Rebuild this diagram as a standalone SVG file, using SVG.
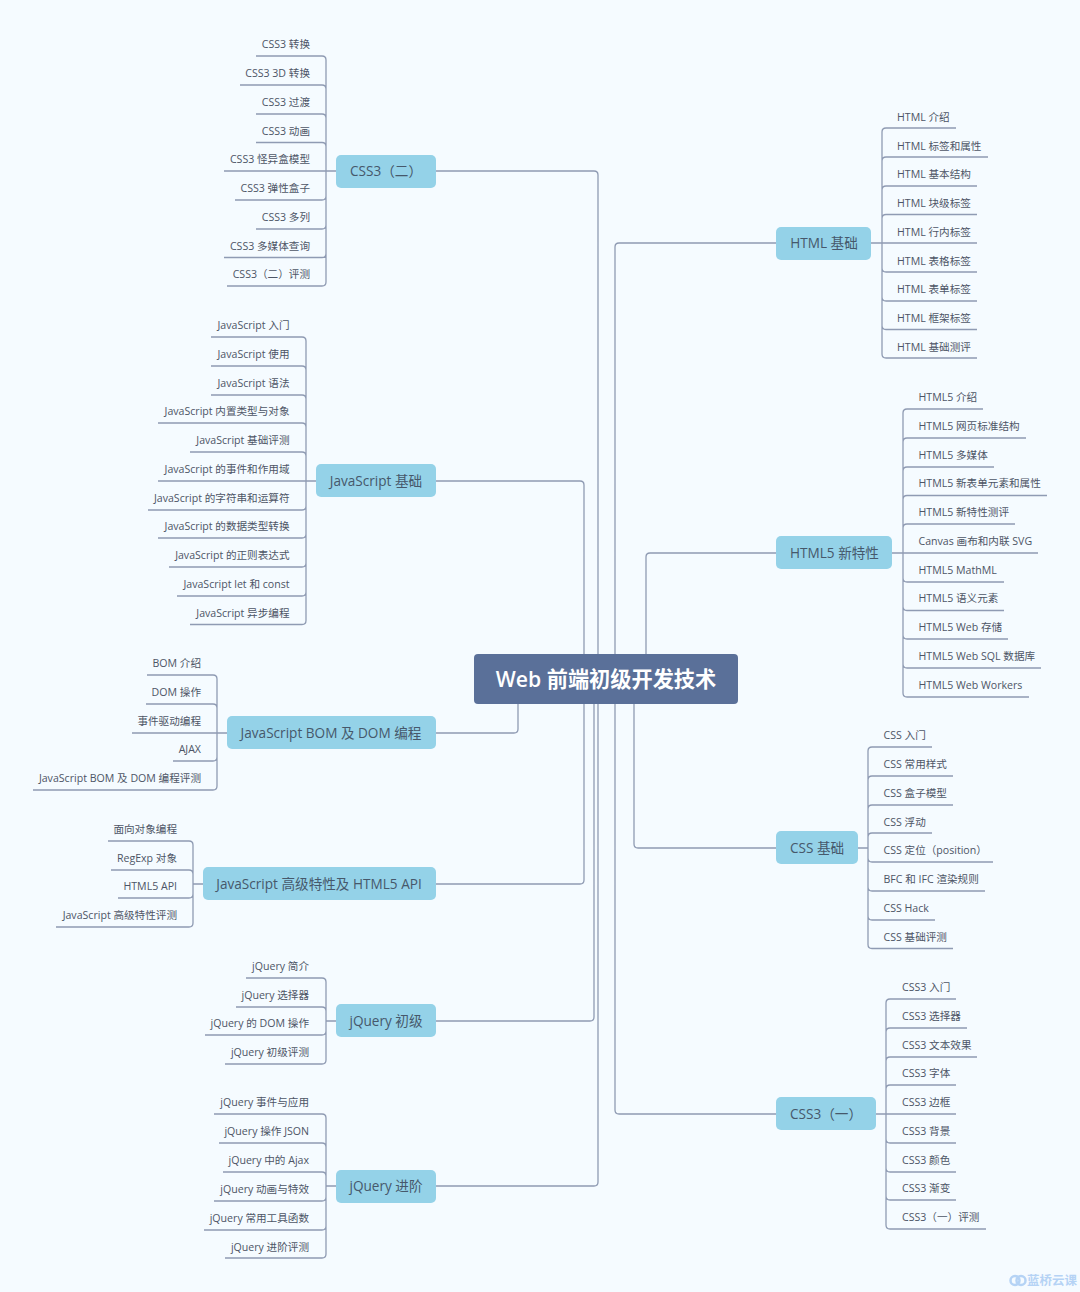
<svg xmlns="http://www.w3.org/2000/svg" width="1080" height="1292" viewBox="0 0 1080 1292">
<style>
text{font-family:"Open Sans","Noto Sans CJK SC",sans-serif}
.l{font-size:10.6px;fill:#4d5566}
.e{text-anchor:end}
.n{font-size:13.6px;fill:#46586b;text-anchor:middle}
.b{fill:#94d2e8}
.c{fill:none;stroke:#8f9bb3;stroke-width:1.3}
</style>
<rect width="1080" height="1292" fill="#f5fbff"/>
<g id="connectors" class="c">
<path d="M436 171H594Q598 171 598 175V654M436 481H580Q584 481 584 485V654M436 733H514Q518 733 518 729V704M436 884H580Q584 884 584 880V704M436 1021H590Q594 1021 594 1017V704M436 1186H594Q598 1186 598 1182V704M776 243H619Q615 243 615 247V654M776 553H650Q646 553 646 557V654M776 848H638Q634 848 634 844V704M776 1114H619Q615 1114 615 1110V704"/>
<path d="M256 56H322Q326 56 326 60V171M240 85H322Q326 85 326 89V171M256 114H322Q326 114 326 118V171M256 142.500H322Q326 142.500 326 146.500V171M224 171H336M235 200H322Q326 200 326 196V171M256 229H322Q326 229 326 225V171M224 257.500H322Q326 257.500 326 253.500V171M227 286H322Q326 286 326 282V171"/>
<path d="M211 337H302Q306 337 306 341V481M211 366H302Q306 366 306 370V481M211 395H302Q306 395 306 399V481M158 423H302Q306 423 306 427V481M190 452H302Q306 452 306 456V481M158 481H316M148 510H302Q306 510 306 506V481M158 538H302Q306 538 306 534V481M169 567H302Q306 567 306 563V481M177 596H302Q306 596 306 592V481M190 624.500H302Q306 624.500 306 620.500V481"/>
<path d="M147 675H213Q217 675 217 679V733M146 704H213Q217 704 217 708V733M132 733H227M173 761H213Q217 761 217 757V733M33 790H213Q217 790 217 786V733"/>
<path d="M108 841H189Q193 841 193 845V884M111 870H189Q193 870 193 874V884M118 898H189Q193 898 193 894V884M56 927H189Q193 927 193 923V884M193 884H203"/>
<path d="M246 978H322Q326 978 326 982V1021M236 1007H322Q326 1007 326 1011V1021M205 1035H322Q326 1035 326 1031V1021M225 1064H322Q326 1064 326 1060V1021M326 1021H336"/>
<path d="M214 1114H322Q326 1114 326 1118V1186M219 1143H322Q326 1143 326 1147V1186M223 1172H322Q326 1172 326 1176V1186M214 1201H322Q326 1201 326 1197V1186M204 1230H322Q326 1230 326 1226V1186M225 1258H322Q326 1258 326 1254V1186M326 1186H336"/>
<path d="M956 128H886Q882 128 882 132V243M988 157H886Q882 157 882 161V243M977 186H886Q882 186 882 190V243M977 214.500H886Q882 214.500 882 218.500V243M977 243H871M977 272H886Q882 272 882 268V243M977 301H886Q882 301 882 297V243M977 329.500H886Q882 329.500 882 325.500V243M977 358H886Q882 358 882 354V243"/>
<path d="M983 409H907Q903 409 903 413V553M1026 438H907Q903 438 903 442V553M994 467H907Q903 467 903 471V553M1047 495.500H907Q903 495.500 903 499.500V553M1015 524H907Q903 524 903 528V553M1038 553H892M1004 582H907Q903 582 903 578V553M1004 610.500H907Q903 610.500 903 606.500V553M1008 639H907Q903 639 903 635V553M1041 668H907Q903 668 903 664V553M1029 697H907Q903 697 903 693V553"/>
<path d="M932 747H872Q868 747 868 751V848M953 776H872Q868 776 868 780V848M953 805H872Q868 805 868 809V848M932 833H872Q868 833 868 837V848M993 862H872Q868 862 868 858V848M985 891H872Q868 891 868 887V848M935 920H872Q868 920 868 916V848M953 948.500H872Q868 948.500 868 944.500V848M868 848H858"/>
<path d="M956 999H890Q886 999 886 1003V1114M967 1028H890Q886 1028 886 1032V1114M977 1057H890Q886 1057 886 1061V1114M956 1085H890Q886 1085 886 1089V1114M956 1114H876M956 1143H890Q886 1143 886 1139V1114M956 1172H890Q886 1172 886 1168V1114M956 1200H890Q886 1200 886 1196V1114M986 1229H890Q886 1229 886 1225V1114"/>
</g>
<g id="root"><rect x="474" y="654" width="264" height="50" rx="4" fill="#5a7099"/><text x="606" y="686.500" text-anchor="middle" font-size="21.200" font-weight="600" fill="#fff">Web 前端初级开发技术</text></g>
<g id="css3-2"><rect class="b" x="336" y="155" width="100" height="33" rx="5"/><text class="n" x="386" y="176">CSS3（二）</text>
<g class="l e"><text x="310" y="48">CSS3 转换</text><text x="310" y="77">CSS3 3D 转换</text><text x="310" y="106">CSS3 过渡</text><text x="310" y="135">CSS3 动画</text><text x="310" y="163">CSS3 怪异盒模型</text><text x="310" y="192">CSS3 弹性盒子</text><text x="310" y="221">CSS3 多列</text><text x="310" y="250">CSS3 多媒体查询</text><text x="310" y="278">CSS3（二）评测</text></g></g>
<g id="js-basic"><rect class="b" x="316" y="464" width="120" height="33" rx="5"/><text class="n" x="376" y="485.500">JavaScript 基础</text>
<g class="l e"><text x="289.500" y="329">JavaScript 入门</text><text x="289.500" y="358">JavaScript 使用</text><text x="289.500" y="387">JavaScript 语法</text><text x="289.500" y="415">JavaScript 内置类型与对象</text><text x="289.500" y="444">JavaScript 基础评测</text><text x="289.500" y="473">JavaScript 的事件和作用域</text><text x="289.500" y="501.500">JavaScript 的字符串和运算符</text><text x="289.500" y="530">JavaScript 的数据类型转换</text><text x="289.500" y="559">JavaScript 的正则表达式</text><text x="289.500" y="588">JavaScript let 和 const</text><text x="289.500" y="616.500">JavaScript 异步编程</text></g></g>
<g id="js-bom"><rect class="b" x="227" y="716" width="209" height="33" rx="5"/><text class="n" x="331" y="737.500">JavaScript BOM 及 DOM 编程</text>
<g class="l e"><text x="201" y="667">BOM 介绍</text><text x="201" y="696">DOM 操作</text><text x="201" y="725">事件驱动编程</text><text x="201" y="753">AJAX</text><text x="201" y="782">JavaScript BOM 及 DOM 编程评测</text></g></g>
<g id="js-adv"><rect class="b" x="203" y="867" width="233" height="33" rx="5"/><text class="n" x="319" y="888.500">JavaScript 高级特性及 HTML5 API</text>
<g class="l e"><text x="177" y="833">面向对象编程</text><text x="177" y="862">RegExp 对象</text><text x="177" y="890">HTML5 API</text><text x="177" y="919">JavaScript 高级特性评测</text></g></g>
<g id="jq-basic"><rect class="b" x="336" y="1004" width="100" height="33" rx="5"/><text class="n" x="386" y="1025.500">jQuery 初级</text>
<g class="l e"><text x="309" y="970">jQuery 简介</text><text x="309" y="998.500">jQuery 选择器</text><text x="309" y="1027">jQuery 的 DOM 操作</text><text x="309" y="1056">jQuery 初级评测</text></g></g>
<g id="jq-adv"><rect class="b" x="336" y="1170" width="100" height="33" rx="5"/><text class="n" x="386" y="1191">jQuery 进阶</text>
<g class="l e"><text x="309" y="1106">jQuery 事件与应用</text><text x="309" y="1135">jQuery 操作 JSON</text><text x="309" y="1164">jQuery 中的 Ajax</text><text x="309" y="1192.500">jQuery 动画与特效</text><text x="309" y="1221.500">jQuery 常用工具函数</text><text x="309" y="1250.500">jQuery 进阶评测</text></g></g>
<g id="html"><rect class="b" x="776" y="227" width="95" height="33" rx="5"/><text class="n" x="824" y="248">HTML 基础</text>
<g class="l"><text x="897" y="121">HTML 介绍</text><text x="897" y="149.500">HTML 标签和属性</text><text x="897" y="178">HTML 基本结构</text><text x="897" y="207">HTML 块级标签</text><text x="897" y="235.500">HTML 行内标签</text><text x="897" y="264.500">HTML 表格标签</text><text x="897" y="293">HTML 表单标签</text><text x="897" y="322">HTML 框架标签</text><text x="897" y="351">HTML 基础测评</text></g></g>
<g id="html5"><rect class="b" x="776" y="536" width="116" height="33" rx="5"/><text class="n" x="834.500" y="557.500">HTML5 新特性</text>
<g class="l"><text x="918.500" y="401">HTML5 介绍</text><text x="918.500" y="430">HTML5 网页标准结构</text><text x="918.500" y="459">HTML5 多媒体</text><text x="918.500" y="487">HTML5 新表单元素和属性</text><text x="918.500" y="516">HTML5 新特性测评</text><text x="918.500" y="545">Canvas 画布和内联 SVG</text><text x="918.500" y="574">HTML5 MathML</text><text x="918.500" y="602">HTML5 语义元素</text><text x="918.500" y="631">HTML5 Web 存储</text><text x="918.500" y="660">HTML5 Web SQL 数据库</text><text x="918.500" y="689">HTML5 Web Workers</text></g></g>
<g id="css"><rect class="b" x="776" y="831" width="82" height="33" rx="5"/><text class="n" x="817" y="852.500">CSS 基础</text>
<g class="l"><text x="883.500" y="739">CSS 入门</text><text x="883.500" y="768">CSS 常用样式</text><text x="883.500" y="797">CSS 盒子模型</text><text x="883.500" y="825.500">CSS 浮动</text><text x="883.500" y="854">CSS 定位（position）</text><text x="883.500" y="883">BFC 和 IFC 渲染规则</text><text x="883.500" y="912">CSS Hack</text><text x="883.500" y="941">CSS 基础评测</text></g></g>
<g id="css3-1"><rect class="b" x="776" y="1097" width="100" height="33" rx="5"/><text class="n" x="826" y="1118.500">CSS3（一）</text>
<g class="l"><text x="902" y="991">CSS3 入门</text><text x="902" y="1020">CSS3 选择器</text><text x="902" y="1049">CSS3 文本效果</text><text x="902" y="1077">CSS3 字体</text><text x="902" y="1106">CSS3 边框</text><text x="902" y="1135">CSS3 背景</text><text x="902" y="1164">CSS3 颜色</text><text x="902" y="1192">CSS3 渐变</text><text x="902" y="1221">CSS3（一）评测</text></g></g>
<g id="logo"><circle cx="1015" cy="1280.500" r="4.500" fill="none" stroke="#b5d3f5" stroke-width="2.500"/><circle cx="1021" cy="1280.500" r="4.500" fill="none" stroke="#b5d3f5" stroke-width="2.500"/><text x="1027" y="1285" font-size="12.500" font-weight="700" fill="#b5d3f5">蓝桥云课</text></g>
</svg>
